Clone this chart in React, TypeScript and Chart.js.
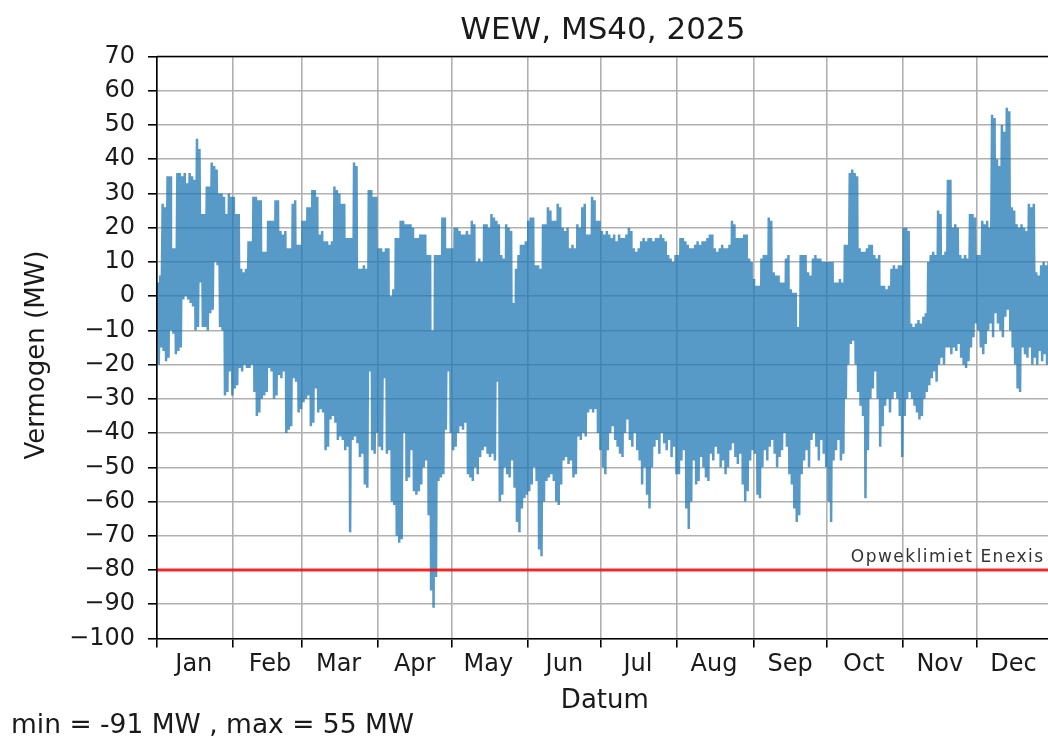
import React, { useEffect, useRef } from 'react';
import { Chart, registerables } from 'chart.js';

Chart.register(...registerables);

// ---- texts ----
const chartTitle = 'WEW, MS40, 2025';
const xAxisLabel = 'Datum';
const yAxisLabel = 'Vermogen (MW)';
const limitLabel = 'Opweklimiet Enexis';

// ---- axes ----
const monthNames = ['Jan', 'Feb', 'Mar', 'Apr', 'May', 'Jun', 'Jul', 'Aug', 'Sep', 'Oct', 'Nov', 'Dec'];
const monthStartDays = [0, 31, 59, 90, 120, 151, 181, 212, 243, 273, 304, 334];
const monthLabelOffset = 15; // labels sit on the 16th of each month
const yTickValues = [-100, -90, -80, -70, -60, -50, -40, -30, -20, -10, 0, 10, 20, 30, 40, 50, 60, 70];
const xMinDay = 0;
const xMaxDay = 365;
const limitValue = -80;

// ---- daily maximum power (MW), per month ----
const janMax = [4, 6, 27, 26, 35, 35, 14, 14, 36, 36, 35, 36, 33, 36, 35, 34, 46, 43, 24, 24, 32, 32, 39, 38, 37, 30, 30, 29, 24, 30, 29];
const febMax = [29, 24, 24, 8, 7, 8, 16, 16, 29, 29, 28, 28, 13, 13, 22, 22, 22, 28, 28, 19, 18, 19, 14, 14, 27, 28, 15, 15];
const marMax = [22, 22, 26, 26, 31, 31, 29, 18, 19, 16, 16, 15, 16, 32, 31, 30, 27, 27, 17, 17, 17, 39, 38, 8, 8, 9, 8, 31, 31, 29, 29];
const aprMax = [14, 14, 13, 14, 14, 0, 2, 17, 17, 22, 22, 21, 21, 21, 20, 17, 17, 18, 18, 18, 12, 12, -10, 12, 12, 12, 23, 23, 14, 14];
const mayMax = [14, 20, 20, 19, 18, 18, 19, 18, 22, 21, 10, 11, 10, 21, 21, 20, 24, 23, 22, 21, 12, 11, 21, 20, 19, -2, 8, 12, 15, 15, 16];
const junMax = [22, 23, 23, 9, 9, 8, 21, 21, 26, 25, 22, 22, 27, 26, 20, 19, 20, 14, 15, 14, 21, 20, 26, 27, 18, 18, 29, 28, 22, 22];
const julMax = [19, 18, 19, 18, 17, 18, 16, 18, 17, 17, 18, 20, 19, 14, 13, 14, 16, 17, 16, 17, 17, 16, 17, 17, 18, 17, 16, 12, 11, 10, 12];
const augMax = [12, 17, 17, 16, 15, 14, 14, 15, 16, 15, 16, 16, 17, 18, 18, 14, 13, 14, 15, 14, 14, 15, 22, 21, 17, 17, 17, 18, 18, 11, 10];
const sepMax = [5, 3, 3, 11, 12, 12, 23, 22, 7, 6, 6, 4, 4, 11, 12, 2, 1, 1, -9, 12, 12, 12, 7, 6, 11, 12, 11, 11, 10, 10];
const octMax = [10, 10, 10, 4, 4, 5, 4, 15, 15, 36, 37, 36, 35, 14, 13, 13, 14, 15, 15, 12, 11, 12, 3, 3, 2, 3, 8, 9, 8, 9, 9];
const novMax = [20, 20, 19, -8, -9, -8, -7, -8, -6, -5, 10, 12, 13, 12, 25, 24, 12, 13, 34, 34, 20, 21, 20, 12, 11, 12, 11, 24, 24, 23];
const decMax = [12, 12, 22, 21, 22, 20, 53, 52, 40, 38, 50, 48, 55, 54, 26, 25, 21, 20, 21, 20, 19, 27, 26, 27, 7, 6, 9, 10, 9, 10, 12];

// ---- daily minimum power (MW), per month ----
const janMin = [-20, -15, -16, -19, -18, -10, -11, -17, -16, -15, -1, 0, -1, -2, -3, -10, -9, 4, -9, -9, -10, -5, -4, 10, 9, -9, -10, -29, -28, -22, -29];
const febMin = [-27, -26, -21, -22, -20, -21, -21, -20, -28, -35, -34, -30, -29, -28, -21, -22, -30, -29, -23, -24, -22, -40, -39, -38, -24, -25, -34, -33];
const marMin = [-31, -30, -29, -38, -37, -27, -34, -33, -34, -45, -44, -36, -35, -37, -42, -41, -42, -45, -44, -69, -42, -41, -43, -47, -46, -55, -56, -22, -45, -46, -40];
const aprMin = [-44, -45, -24, -46, -45, -60, -61, -70, -72, -71, -40, -54, -53, -45, -57, -58, -57, -55, -50, -48, -64, -86, -91, -82, -54, -53, -52, -39, -22, -40];
const mayMin = [-45, -44, -40, -38, -39, -37, -52, -53, -54, -50, -52, -47, -45, -44, -46, -47, -46, -48, -25, -60, -58, -50, -52, -53, -48, -56, -66, -69, -62, -59, -58];
const junMin = [-57, -55, -50, -54, -74, -76, -60, -54, -53, -52, -54, -60, -61, -55, -48, -47, -49, -48, -53, -52, -41, -42, -40, -41, -34, -33, -34, -33, -40, -45];
const julMin = [-50, -52, -45, -40, -38, -42, -44, -46, -47, -40, -36, -42, -44, -40, -45, -48, -55, -50, -58, -62, -50, -44, -42, -46, -40, -43, -45, -42, -47, -44, -52];
const augMin = [-52, -48, -45, -62, -68, -60, -48, -55, -54, -47, -50, -53, -54, -46, -48, -44, -46, -50, -48, -52, -50, -45, -43, -47, -49, -46, -55, -60, -57, -48, -45];
const sepMin = [-46, -58, -59, -50, -45, -48, -44, -42, -46, -50, -47, -45, -40, -44, -52, -55, -62, -66, -64, -52, -48, -45, -50, -42, -40, -44, -48, -42, -46, -50];
const octMin = [-60, -66, -48, -45, -42, -48, -46, -30, -20, -14, -13, -20, -28, -32, -35, -59, -45, -30, -27, -22, -30, -44, -38, -32, -30, -34, -30, -28, -30, -35, -47];
const novMin = [-35, -30, -28, -30, -32, -34, -36, -35, -30, -28, -26, -24, -22, -25, -20, -18, -20, -15, -15, -17, -15, -16, -14, -18, -20, -21, -19, -15, -12, -8];
const decMin = [-10, -15, -17, -14, -10, -8, -12, -5, -8, -10, -12, -6, -4, -10, -15, -20, -27, -28, -15, -17, -18, -15, -20, -18, -20, -16, -19, -17, -20, -18, -18];

const monthlyMax = [janMax, febMax, marMax, aprMax, mayMax, junMax, julMax, augMax, sepMax, octMax, novMax, decMax];
const monthlyMin = [janMin, febMin, marMin, aprMin, mayMin, junMin, julMin, augMin, sepMin, octMin, novMin, decMin];

const FONT = "'DejaVu Sans', sans-serif";
const TEXT = '#1a1a1a';

function buildSeries() {
  const pts: { x: number; y: number }[] = [];
  monthlyMax.forEach((arr, m) => {
    arr.forEach((v, i) => {
      const d = monthStartDays[m] + i;
      pts.push({ x: d + 0.3, y: v });
      pts.push({ x: d + 0.7, y: monthlyMin[m][i] });
    });
  });
  return pts;
}

export default function App() {
  const ref = useRef<HTMLCanvasElement | null>(null);

  useEffect(() => {
    if (!ref.current) return;
    const series = buildSeries();
    const allMax = Math.max(...monthlyMax.flat());
    const allMin = Math.min(...monthlyMin.flat());
    const statsText = `min = ${allMin} MW , max = ${allMax} MW`;

    const labelDays = monthStartDays.map((d) => d + monthLabelOffset);
    const isLabelDay = (v: number) => labelDays.indexOf(v) >= 0;

    const textPlugin = {
      id: 'textPlugin',
      afterDraw(chart: any) {
        const { ctx, chartArea: a, scales } = chart;
        ctx.save();
        // top spine
        ctx.strokeStyle = '#000';
        ctx.lineWidth = 1.6;
        ctx.beginPath();
        ctx.moveTo(a.left, a.top);
        ctx.lineTo(a.right, a.top);
        ctx.stroke();

        ctx.fillStyle = TEXT;
        ctx.textAlign = 'center';
        ctx.textBaseline = 'middle';
        ctx.font = `31px ${FONT}`;
        ctx.fillText(chartTitle, (a.left + a.right) / 2 - 2, 31);

        ctx.font = `26px ${FONT}`;
        ctx.fillText(xAxisLabel, (a.left + a.right) / 2, 701);

        ctx.save();
        ctx.translate(37.5, 355);
        ctx.rotate(-Math.PI / 2);
        ctx.fillText(yAxisLabel, 0, 0);
        ctx.restore();

        ctx.font = `26.5px ${FONT}`;
        ctx.textAlign = 'left';
        ctx.fillText(statsText, 11, 726);

        const yLim = scales.y.getPixelForValue(limitValue);
        ctx.font = `17px ${FONT}`;
        try { (ctx as any).letterSpacing = '1.5px'; } catch (e) {}
        ctx.fillStyle = '#333';
        ctx.textAlign = 'right';
        ctx.textBaseline = 'alphabetic';
        ctx.fillText(limitLabel, a.right - 8, yLim - 8);
        ctx.restore();
      },
    };

    const chart = new Chart(ref.current, {
      type: 'line',
      data: {
        datasets: [
          {
            data: [
              { x: xMinDay, y: limitValue },
              { x: xMaxDay, y: limitValue },
            ],
            borderColor: 'rgba(255,0,0,0.8)',
            borderWidth: 3,
            pointRadius: 0,
            tension: 0,
            fill: false,
            order: 1,
          },
          {
            data: series,
            borderColor: 'rgba(31,119,180,0.75)',
            borderWidth: 2.5,
            pointRadius: 0,
            tension: 0,
            fill: false,
            order: 2,
          },
        ],
      },
      options: {
        animation: false,
        responsive: false,
        events: [],
        layout: { padding: { left: 0, right: 11.3, top: 56.5, bottom: 21.5 } },
        plugins: {
          legend: { display: false },
          tooltip: { enabled: false },
          title: { display: false },
        },
        scales: {
          x: {
            type: 'linear',
            min: xMinDay,
            max: xMaxDay,
            afterBuildTicks: (scale: any) => {
              const vals = [...monthStartDays, ...labelDays].sort((p, q) => p - q);
              scale.ticks = vals.map((v) => ({ value: v }));
            },
            afterFit: (scale: any) => {
              scale.height = 80;
            },
            ticks: {
              autoSkip: false,
              maxRotation: 0,
              minRotation: 0,
              padding: 3,
              color: TEXT,
              font: { family: FONT, size: 24 },
              callback: (value: any) => {
                const idx = labelDays.indexOf(Number(value));
                return idx >= 0 ? monthNames[idx] : '';
              },
            },
            grid: {
              color: (c: any) => (c.tick && isLabelDay(c.tick.value) ? 'rgba(0,0,0,0)' : '#b0b0b0'),
              tickColor: (c: any) => (c.tick && isLabelDay(c.tick.value) ? 'rgba(0,0,0,0)' : '#000'),
              lineWidth: 1.6,
              tickLength: 9,
              tickWidth: 1.6,
            },
            border: { display: true, color: '#000', width: 1.6, z: 1 },
          },
          y: {
            type: 'linear',
            min: yTickValues[0],
            max: yTickValues[yTickValues.length - 1],
            afterBuildTicks: (scale: any) => {
              scale.ticks = yTickValues.map((v) => ({ value: v }));
            },
            afterFit: (scale: any) => {
              scale.width = 157;
            },
            ticks: {
              padding: 13,
              color: TEXT,
              font: { family: FONT, size: 24 },
              callback: (value: any) => {
                const v = Number(value);
                return v < 0 ? '\u2212' + Math.abs(v) : String(v);
              },
            },
            grid: {
              color: '#b0b0b0',
              tickColor: '#000',
              lineWidth: 1.6,
              tickLength: 9,
              tickWidth: 1.6,
            },
            border: { display: true, color: '#000', width: 1.6, z: 1 },
          },
        },
      } as any,
      plugins: [textPlugin],
    });

    return () => chart.destroy();
  }, []);

  return (
    <div
      style={{
        position: 'absolute',
        left: 0,
        top: 0,
        width: 1048,
        height: 740,
        overflow: 'hidden',
        background: '#fff',
      }}
    >
      <canvas ref={ref} width={1064} height={740} style={{ display: 'block', width: 1064, height: 740 }} />
    </div>
  );
}
